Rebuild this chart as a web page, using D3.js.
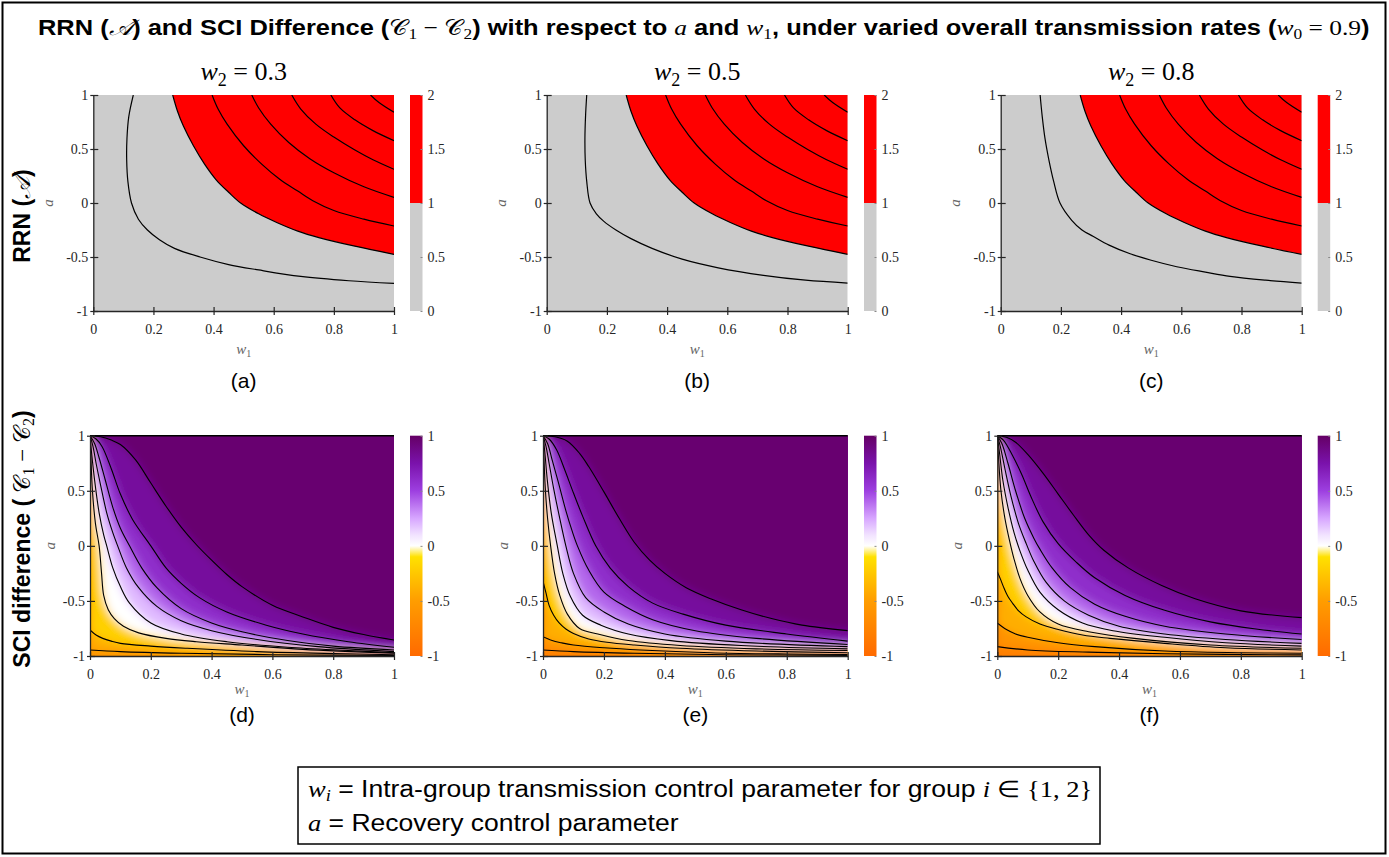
<!DOCTYPE html>
<html>
<head>
<meta charset="utf-8">
<script src="https://cdn.jsdelivr.net/npm/d3@7"></script>
<style>
  body { margin: 0; background: #fff; }
  svg { display: block; }
</style>
</head>
<body>
<div id="chart"></div>
<script>
// ---- data ----
var w2Values = [0.3, 0.5, 0.8];
var panelLetters = ['(a)', '(b)', '(c)', '(d)', '(e)', '(f)'];
var xTicks = [0, 0.2, 0.4, 0.6, 0.8, 1];
var yTicks = [-1, -0.5, 0, 0.5, 1];
var rrnBarTicks = [0, 0.5, 1, 1.5, 2];
var sciBarTicks = [-1, -0.5, 0, 0.5, 1];

// RRN contour lines [w1, a]; the upper ones are the same in the three panels
var rrnUpperLevels = [1, 1.5, 2, 2.5, 3, 3.5];
var rrnUpperLines = [
  [[0.264,1],[0.28,0.85],[0.3,0.71],[0.333,0.53],[0.37,0.36],[0.41,0.21],[0.45,0.1],[0.49,0],[0.55,-0.1],[0.61,-0.18],[0.68,-0.26],[0.75,-0.32],[0.87,-0.4],[1,-0.475]],
  [[0.395,1],[0.415,0.87],[0.445,0.73],[0.5,0.53],[0.56,0.36],[0.62,0.22],[0.68,0.11],[0.73,0.02],[0.8,-0.07],[0.9,-0.15],[1,-0.213]],
  [[0.527,1],[0.55,0.88],[0.59,0.73],[0.65,0.56],[0.72,0.41],[0.8,0.28],[0.9,0.15],[1,0.052]],
  [[0.66,1],[0.69,0.87],[0.74,0.73],[0.8,0.61],[0.87,0.49],[0.93,0.4],[1,0.312]],
  [[0.79,1],[0.82,0.88],[0.87,0.77],[0.93,0.67],[1,0.577]],
  [[0.922,1],[0.95,0.93],[1,0.84]]
];
// RRN = 0.5 line, one per panel
var rrnHalfA = [[0.133,1],[0.118,0.8],[0.112,0.6],[0.111,0.4],[0.115,0.2],[0.127,0],[0.15,-0.15],[0.18,-0.25],[0.22,-0.34],[0.27,-0.42],[0.355,-0.5],[0.45,-0.57],[0.55,-0.62],[0.69,-0.68],[0.85,-0.72],[1,-0.744]];
var rrnHalfB = [[0.133,1],[0.129,0.8],[0.127,0.6],[0.128,0.4],[0.133,0.2],[0.144,0],[0.165,-0.1],[0.19,-0.17],[0.23,-0.25],[0.28,-0.33],[0.35,-0.42],[0.45,-0.52],[0.57,-0.6],[0.72,-0.67],[0.86,-0.715],[1,-0.741]];
var rrnHalfC = [[0.131,1],[0.138,0.8],[0.147,0.6],[0.16,0.4],[0.176,0.2],[0.197,0],[0.236,-0.16],[0.27,-0.25],[0.308,-0.31],[0.36,-0.39],[0.43,-0.47],[0.5,-0.53],[0.585,-0.59],[0.68,-0.64],[0.762,-0.68],[0.88,-0.715],[1,-0.741]];

// SCI difference contour lines [w1, a]
var sciLevelsD = [0.9, 0.7, 0.5, 0.3, 0.1, -0.1, -0.3, -0.5];
var sciLinesD = [
  [[0,1],[0.035,0.99],[0.07,0.96],[0.1,0.92],[0.15,0.78],[0.2,0.57],[0.25,0.36],[0.3,0.17],[0.35,0.01],[0.4,-0.13],[0.45,-0.26],[0.5,-0.37],[0.6,-0.54],[0.7,-0.645],[0.8,-0.74],[0.9,-0.805],[1,-0.855]],
  [[0,1],[0.02,0.97],[0.04,0.9],[0.07,0.7],[0.1,0.47],[0.14,0.24],[0.2,0],[0.25,-0.2],[0.3,-0.34],[0.36,-0.47],[0.45,-0.6],[0.58,-0.72],[0.7,-0.8],[0.85,-0.87],[1,-0.92]],
  [[0,1],[0.015,0.93],[0.03,0.8],[0.05,0.6],[0.075,0.35],[0.1,0.16],[0.13,0],[0.17,-0.2],[0.22,-0.38],[0.3,-0.57],[0.4,-0.7],[0.5,-0.78],[0.65,-0.86],[0.8,-0.91],[1,-0.945]],
  [[0,1],[0.01,0.9],[0.02,0.75],[0.035,0.55],[0.055,0.3],[0.075,0.12],[0.091,0],[0.12,-0.2],[0.16,-0.38],[0.22,-0.55],[0.3,-0.68],[0.4,-0.77],[0.55,-0.85],[0.75,-0.915],[1,-0.96]],
  [[0,1],[0.005,0.85],[0.015,0.6],[0.03,0.3],[0.045,0.1],[0.055,0],[0.075,-0.2],[0.1,-0.37],[0.13,-0.52],[0.2,-0.7],[0.3,-0.8],[0.45,-0.87],[0.65,-0.92],[0.85,-0.95],[1,-0.97]],
  [[0,1],[0.003,0.8],[0.008,0.5],[0.018,0.2],[0.03,0],[0.038,-0.25],[0.045,-0.45],[0.06,-0.58],[0.08,-0.66],[0.11,-0.73],[0.16,-0.79],[0.25,-0.84],[0.35,-0.87],[0.5,-0.9],[0.7,-0.94],[1,-0.975]],
  [[0,-0.764],[0.02,-0.81],[0.042,-0.84],[0.07,-0.865],[0.1,-0.885],[0.2,-0.91],[0.32,-0.93],[0.55,-0.96],[0.8,-0.978],[1,-0.988]],
  [[0,-0.945],[0.1,-0.96],[0.3,-0.975],[0.6,-0.988],[1,-0.995]]
];
var sciLevelsE = [0.9, 0.7, 0.5, 0.3, 0.1, -0.1, -0.3, -0.5, -0.7];
var sciLinesE = [
  [[0,1],[0.04,0.99],[0.08,0.95],[0.12,0.84],[0.15,0.72],[0.2,0.49],[0.25,0.25],[0.3,0.03],[0.35,-0.13],[0.4,-0.25],[0.47,-0.38],[0.55,-0.48],[0.65,-0.58],[0.75,-0.66],[0.85,-0.72],[1,-0.77]],
  [[0,1],[0.02,0.97],[0.045,0.87],[0.07,0.7],[0.1,0.48],[0.13,0.27],[0.173,0],[0.22,-0.2],[0.28,-0.37],[0.36,-0.52],[0.46,-0.62],[0.6,-0.72],[0.8,-0.8],[1,-0.865]],
  [[0,1],[0.015,0.93],[0.03,0.78],[0.05,0.58],[0.075,0.32],[0.095,0.14],[0.113,0],[0.15,-0.22],[0.2,-0.42],[0.27,-0.55],[0.36,-0.67],[0.5,-0.77],[0.7,-0.84],[1,-0.895]],
  [[0,1],[0.01,0.9],[0.02,0.75],[0.035,0.52],[0.055,0.25],[0.075,0],[0.1,-0.25],[0.14,-0.47],[0.2,-0.6],[0.28,-0.71],[0.4,-0.8],[0.6,-0.865],[1,-0.915]],
  [[0,1],[0.006,0.85],[0.014,0.6],[0.027,0.3],[0.047,0],[0.065,-0.25],[0.09,-0.46],[0.13,-0.63],[0.19,-0.72],[0.28,-0.8],[0.42,-0.86],[0.65,-0.905],[1,-0.935]],
  [[0,1],[0.003,0.8],[0.008,0.5],[0.015,0.25],[0.025,0],[0.038,-0.25],[0.055,-0.45],[0.08,-0.62],[0.12,-0.75],[0.18,-0.8],[0.28,-0.86],[0.45,-0.905],[0.7,-0.935],[1,-0.95]],
  [[0,-0.32],[0.01,-0.43],[0.02,-0.54],[0.035,-0.63],[0.053,-0.7],[0.075,-0.755],[0.1,-0.795],[0.15,-0.845],[0.21,-0.875],[0.3,-0.9],[0.45,-0.93],[0.7,-0.955],[1,-0.97]],
  [[0,-0.825],[0.03,-0.86],[0.06,-0.88],[0.1,-0.9],[0.2,-0.925],[0.32,-0.945],[0.55,-0.97],[0.8,-0.982],[1,-0.987]],
  [[0,-0.945],[0.1,-0.96],[0.3,-0.975],[0.6,-0.988],[1,-0.994]]
];
var sciLevelsF = [0.9, 0.7, 0.5, 0.3, 0.1, -0.1, -0.3, -0.5, -0.7];
var sciLinesF = [
  [[0,1],[0.03,0.985],[0.06,0.94],[0.1,0.83],[0.15,0.66],[0.2,0.47],[0.25,0.28],[0.3,0.1],[0.35,-0.04],[0.43,-0.2],[0.54,-0.36],[0.65,-0.48],[0.8,-0.59],[1,-0.652]],
  [[0,1],[0.02,0.96],[0.05,0.82],[0.08,0.65],[0.11,0.45],[0.15,0.22],[0.2,0.02],[0.26,-0.15],[0.32,-0.29],[0.42,-0.45],[0.55,-0.585],[0.7,-0.69],[0.85,-0.755],[1,-0.8]],
  [[0,1],[0.015,0.93],[0.035,0.75],[0.06,0.5],[0.09,0.25],[0.12,0.07],[0.14,-0.03],[0.18,-0.2],[0.24,-0.38],[0.32,-0.53],[0.42,-0.64],[0.55,-0.73],[0.75,-0.8],[1,-0.85]],
  [[0,1],[0.01,0.9],[0.025,0.7],[0.045,0.45],[0.07,0.2],[0.095,0.02],[0.12,-0.14],[0.16,-0.33],[0.22,-0.5],[0.3,-0.63],[0.4,-0.73],[0.55,-0.8],[0.75,-0.85],[1,-0.885]],
  [[0,1],[0.007,0.85],[0.018,0.6],[0.035,0.35],[0.055,0.12],[0.075,-0.05],[0.1,-0.22],[0.14,-0.42],[0.2,-0.58],[0.28,-0.7],[0.38,-0.77],[0.55,-0.83],[0.75,-0.88],[1,-0.91]],
  [[0,1],[0.004,0.8],[0.012,0.5],[0.025,0.25],[0.04,0.05],[0.055,-0.12],[0.075,-0.3],[0.1,-0.45],[0.14,-0.6],[0.2,-0.71],[0.3,-0.78],[0.45,-0.84],[0.7,-0.9],[1,-0.93]],
  [[0,-0.235],[0.01,-0.3],[0.02,-0.37],[0.035,-0.46],[0.05,-0.52],[0.07,-0.59],[0.095,-0.645],[0.14,-0.71],[0.2,-0.76],[0.28,-0.81],[0.37,-0.84],[0.55,-0.885],[0.75,-0.925],[1,-0.945]],
  [[0,-0.7],[0.03,-0.76],[0.06,-0.8],[0.1,-0.83],[0.2,-0.88],[0.32,-0.915],[0.55,-0.955],[0.8,-0.97],[1,-0.975]],
  [[0,-0.915],[0.1,-0.945],[0.3,-0.965],[0.55,-0.98],[1,-0.99]]
];

// ---- layout ----
var rowTop = [95, 435.7], rowBottom = [311, 656];
var plotLeft = [[93.3, 546.7, 1000.7], [90, 543, 997.3]];
var plotRight = [394, 847.7, 1301.7];
var barLeft = [410, 864, 1317.7], barWidth = 12.5;
var serif = "'Liberation Serif', 'Times New Roman', serif";
var sans = "'Liberation Sans', Arial, Helvetica, sans-serif";
var axisColor = '#262626';

var sciColor = d3.scaleLinear()
  .domain([-1, -0.5, -0.1, 0, 0.1, 0.25, 0.5, 0.75, 1])
  .range(['#ff6a00', '#ff9d00', '#ffe100', '#ffffff', '#f1e2ff', '#d7a6ff', '#9d3fe0', '#7a12ab', '#650065']);

var svg = d3.select('#chart').append('svg')
  .attr('width', 1389).attr('height', 857)
  .style('font-family', sans);
var defs = svg.append('defs');
defs.append('filter').attr('id', 'soft')
  .attr('x', '-5%').attr('y', '-5%').attr('width', '110%').attr('height', '110%')
  .append('feGaussianBlur').attr('stdDeviation', 4);

svg.append('rect').attr('x', 2.5).attr('y', 2.5).attr('width', 1383).attr('height', 851)
  .attr('fill', 'none').attr('stroke', '#000').attr('stroke-width', 2);

// squeeze a text element horizontally to a target width around x
function fitWidth(t, x, target) {
  var w = t.node().getBBox().width;
  var s = target / w;
  t.attr('transform', 'translate(' + x + ',0) scale(' + s + ',1) translate(' + (-x) + ',0)');
  return w;
}
function mathSpan(t, txt, opts) {
  opts = opts || {};
  var s = t.append('tspan').style('font-family', serif).style('font-weight', 'normal');
  if (opts.italic) s.style('font-style', 'italic');
  if (opts.size) s.style('font-size', opts.size);
  if (opts.dy) s.attr('dy', opts.dy);
  return s.text(txt);
}

// ---- title ----
var title = svg.append('text').attr('x', 38).attr('y', 35)
  .style('font-size', '22px').style('font-weight', 'bold');
title.append('tspan').text('RRN (');
mathSpan(title, '𝒜', {italic: true});
title.append('tspan').text(') and SCI Difference (');
mathSpan(title, '𝒞');
mathSpan(title, '1', {size: '15px', dy: 4});
mathSpan(title, ' − 𝒞', {dy: -4});
mathSpan(title, '2', {size: '15px', dy: 4});
title.append('tspan').attr('dy', -4).text(') with respect to ');
mathSpan(title, 'a', {italic: true});
title.append('tspan').text(' and ');
mathSpan(title, 'w', {italic: true});
mathSpan(title, '1', {size: '15px', dy: 4});
title.append('tspan').attr('dy', -4).text(', under varied overall transmission rates (');
mathSpan(title, 'w', {italic: true});
mathSpan(title, '0', {size: '15px', dy: 4});
mathSpan(title, ' = 0.9', {dy: -4});
title.append('tspan').text(')');
fitWidth(title, 38, 1332);

// ---- row labels ----
var rl1 = svg.append('text').attr('text-anchor', 'middle')
  .attr('transform', 'translate(30,216) rotate(-90)')
  .style('font-size', '23px').style('font-weight', 'bold');
rl1.append('tspan').text('RRN (');
mathSpan(rl1, '𝒜', {italic: true});
rl1.append('tspan').text(')');

var rl2 = svg.append('text').attr('text-anchor', 'middle')
  .attr('transform', 'translate(30,539) rotate(-90)')
  .style('font-size', '23px').style('font-weight', 'bold');
rl2.append('tspan').text('SCI difference ( ');
mathSpan(rl2, '𝒞');
mathSpan(rl2, '1', {size: '16px', dy: 4});
mathSpan(rl2, ' − 𝒞', {dy: -4});
mathSpan(rl2, '2', {size: '16px', dy: 4});
rl2.append('tspan').attr('dy', -4).text(')');

// ---- panel helpers ----
function curveLine(x, y) {
  return d3.line().x(function (d) { return x(d[0]); }).y(function (d) { return y(d[1]); })
    .curve(d3.curveCatmullRom.alpha(0.5));
}

function drawAxes(g, x, y, row, col) {
  var x0 = plotLeft[row][col], x1 = plotRight[col];
  var yb = rowBottom[row];
  var ax = g.append('g').attr('transform', 'translate(0,' + yb + ')')
    .call(d3.axisBottom(x).tickValues(xTicks).tickFormat(function (d) { return String(d); })
      .tickSize(4).tickSizeOuter(0).tickPadding(9));
  ax.selectAll('.tick line').attr('y1', -4).attr('y2', 4);
  var ay = g.append('g').attr('transform', 'translate(' + x0 + ',0)')
    .call(d3.axisLeft(y).tickValues(yTicks).tickFormat(function (d) { return String(d); })
      .tickSize(3).tickSizeOuter(0).tickPadding(2));
  ay.selectAll('.tick line').attr('x1', 5).attr('x2', -3);
  [ax, ay].forEach(function (a) {
    a.selectAll('path.domain').attr('stroke', axisColor).attr('stroke-width', 1.3);
    a.selectAll('.tick line').attr('stroke', axisColor).attr('stroke-width', 1.2);
    a.selectAll('.tick text').attr('fill', axisColor).style('font-family', serif).style('font-size', '14px');
  });

  var xl = g.append('text').attr('x', (x0 + x1) / 2).attr('y', row === 0 ? 354 : 694)
    .attr('text-anchor', 'middle').attr('fill', '#666').style('font-family', serif).style('font-size', '15px');
  xl.append('tspan').style('font-style', 'italic').text('w');
  xl.append('tspan').style('font-size', '10px').attr('dy', 3).text('1');

  g.append('text').attr('text-anchor', 'middle').attr('fill', '#666')
    .attr('transform', 'translate(' + (x0 - (row === 0 ? 45 : 40)) + ',' + ((rowTop[row] + yb) / 2) + ') rotate(-90)')
    .attr('dy', '0.3em')
    .style('font-family', serif).style('font-style', 'italic').style('font-size', '15px').text('a');

  g.append('text').attr('x', (x0 + x1) / 2).attr('y', row === 0 ? 388 : 722)
    .attr('text-anchor', 'middle').style('font-size', '21px').text(panelLetters[row * 3 + col]);
}

function drawBar(g, col, scale, ticks) {
  var bx = barLeft[col];
  var ga = g.append('g').attr('transform', 'translate(' + (bx + barWidth) + ',0)')
    .call(d3.axisRight(scale).tickValues(ticks).tickFormat(function (d) { return String(d); })
      .tickSize(0).tickPadding(5));
  ga.select('path.domain').remove();
  ga.selectAll('.tick text').attr('fill', axisColor).style('font-family', serif).style('font-size', '14px');
  ga.selectAll('.tick').append('line').attr('x1', -2).attr('x2', 0).attr('stroke', '#888');
}

// ---- RRN row ----
var rrnHalves = [rrnHalfA, rrnHalfB, rrnHalfC];
w2Values.forEach(function (w2, col) {
  var x0 = plotLeft[0][col], x1 = plotRight[col];
  var x = d3.scaleLinear().domain([0, 1]).range([x0, x1]);
  var y = d3.scaleLinear().domain([-1, 1]).range([rowBottom[0], rowTop[0]]);
  var line = curveLine(x, y);
  var g = svg.append('g');
  var cid = 'clipR' + col;
  defs.append('clipPath').attr('id', cid).append('rect')
    .attr('x', x0).attr('y', rowTop[0]).attr('width', x1 - x0).attr('height', rowBottom[0] - rowTop[0]);
  var pg = g.append('g').attr('clip-path', 'url(#' + cid + ')');
  pg.append('rect').attr('x', x0).attr('y', rowTop[0]).attr('width', x1 - x0)
    .attr('height', rowBottom[0] - rowTop[0]).attr('fill', '#cccccc');
  pg.append('path').attr('fill', '#ff0000')
    .attr('d', line(rrnUpperLines[0]) + 'L' + x(1) + ',' + y(1) + 'Z');
  [rrnHalves[col]].concat(rrnUpperLines).forEach(function (pts) {
    pg.append('path').attr('d', line(pts)).attr('fill', 'none').attr('stroke', '#000').attr('stroke-width', 1.2);
  });
  drawAxes(g, x, y, 0, col);

  // subplot heading w2 = ...
  var st = g.append('text').attr('x', (x0 + x1) / 2).attr('y', 80).attr('text-anchor', 'middle')
    .style('font-family', serif).style('font-size', '26px');
  st.append('tspan').style('font-style', 'italic').text('w');
  st.append('tspan').style('font-size', '18px').attr('dy', 6).text('2');
  st.append('tspan').attr('dy', -6).text(' = ' + w2);

  var bs = d3.scaleLinear().domain([0, 2]).range([rowBottom[0], rowTop[0]]);
  g.append('rect').attr('x', barLeft[col]).attr('y', bs(1)).attr('width', barWidth)
    .attr('height', bs(0) - bs(1)).attr('fill', '#cccccc');
  g.append('rect').attr('x', barLeft[col]).attr('y', bs(2)).attr('width', barWidth)
    .attr('height', bs(1) - bs(2)).attr('fill', '#ff0000');
  drawBar(g, col, bs, rrnBarTicks);
});

// ---- SCI row ----
var sciLevels = [sciLevelsD, sciLevelsE, sciLevelsF];
var sciLines = [sciLinesD, sciLinesE, sciLinesF];

var grad = defs.append('linearGradient').attr('id', 'sciGrad')
  .attr('x1', 0).attr('y1', 1).attr('x2', 0).attr('y2', 0);
sciColor.domain().forEach(function (v) {
  grad.append('stop').attr('offset', (v + 1) / 2).attr('stop-color', sciColor(v));
});

function drawBands(layer, x, y, line, levels, lines, x0, x1) {
  var order = d3.range(levels.length).sort(function (i, j) { return levels[i] - levels[j]; });
  layer.append('rect').attr('x', x0 - 10).attr('y', rowTop[1] - 10).attr('width', x1 - x0 + 20)
    .attr('height', rowBottom[1] - rowTop[1] + 20).attr('fill', sciColor(levels[order[0]] - 0.1));
  order.forEach(function (i, k) {
    var next = k < order.length - 1 ? levels[order[k + 1]] : 1.02;
    layer.append('path').attr('fill', sciColor((levels[i] + next) / 2))
      .attr('d', line(lines[i]) + 'L' + (x(1) + 10) + ',' + y(lines[i][lines[i].length - 1][1]) +
        'L' + (x(1) + 10) + ',' + (y(1) - 10) + 'L' + x(0) + ',' + (y(1) - 10) + 'L' + x(0) + ',' + y(1) + 'Z');
  });
}

w2Values.forEach(function (w2, col) {
  var x0 = plotLeft[1][col], x1 = plotRight[col];
  var x = d3.scaleLinear().domain([0, 1]).range([x0, x1]);
  var y = d3.scaleLinear().domain([-1, 1]).range([rowBottom[1], rowTop[1]]);
  var line = curveLine(x, y);
  var g = svg.append('g');
  var cid = 'clipS' + col;
  defs.append('clipPath').attr('id', cid).append('rect')
    .attr('x', x0).attr('y', rowTop[1]).attr('width', x1 - x0).attr('height', rowBottom[1] - rowTop[1]);
  var pg = g.append('g').attr('clip-path', 'url(#' + cid + ')');

  var levels = sciLevels[col], lines = sciLines[col];
  // flat bands, then a softened copy on top to smooth the shading between contour lines
  drawBands(pg.append('g'), x, y, line, levels, lines, x0, x1);
  drawBands(pg.append('g').attr('filter', 'url(#soft)'), x, y, line, levels, lines, x0, x1);
  lines.forEach(function (pts) {
    pg.append('path').attr('d', line(pts)).attr('fill', 'none').attr('stroke', '#000').attr('stroke-width', 1.1);
  });
  g.append('line').attr('x1', x0).attr('x2', x1).attr('y1', rowTop[1]).attr('y2', rowTop[1])
    .attr('stroke', '#000').attr('stroke-width', 1.6);
  drawAxes(g, x, y, 1, col);

  var bs = d3.scaleLinear().domain([-1, 1]).range([rowBottom[1], rowTop[1]]);
  g.append('rect').attr('x', barLeft[col]).attr('y', rowTop[1]).attr('width', barWidth)
    .attr('height', rowBottom[1] - rowTop[1]).attr('fill', 'url(#sciGrad)');
  drawBar(g, col, bs, sciBarTicks);
});

// ---- note box ----
svg.append('rect').attr('x', 298).attr('y', 767).attr('width', 802).attr('height', 77)
  .attr('fill', '#fff').attr('stroke', '#000').attr('stroke-width', 1.5);
var n1 = svg.append('text').attr('x', 308).attr('y', 797).style('font-size', '23px');
mathSpan(n1, 'w', {italic: true});
mathSpan(n1, 'i', {italic: true, size: '16px', dy: 4});
n1.append('tspan').attr('dy', -4).text(' = Intra-group transmission control parameter for group ');
mathSpan(n1, 'i', {italic: true});
mathSpan(n1, ' ∈ {1, 2}');
var n1w = fitWidth(n1, 308, 784);
var n2 = svg.append('text').attr('x', 308).attr('y', 831).style('font-size', '23px');
mathSpan(n2, 'a', {italic: true});
n2.append('tspan').text(' = Recovery control parameter');
n2.attr('transform', 'translate(308,0) scale(' + (784 / n1w) + ',1) translate(-308,0)');
</script>
</body>
</html>
